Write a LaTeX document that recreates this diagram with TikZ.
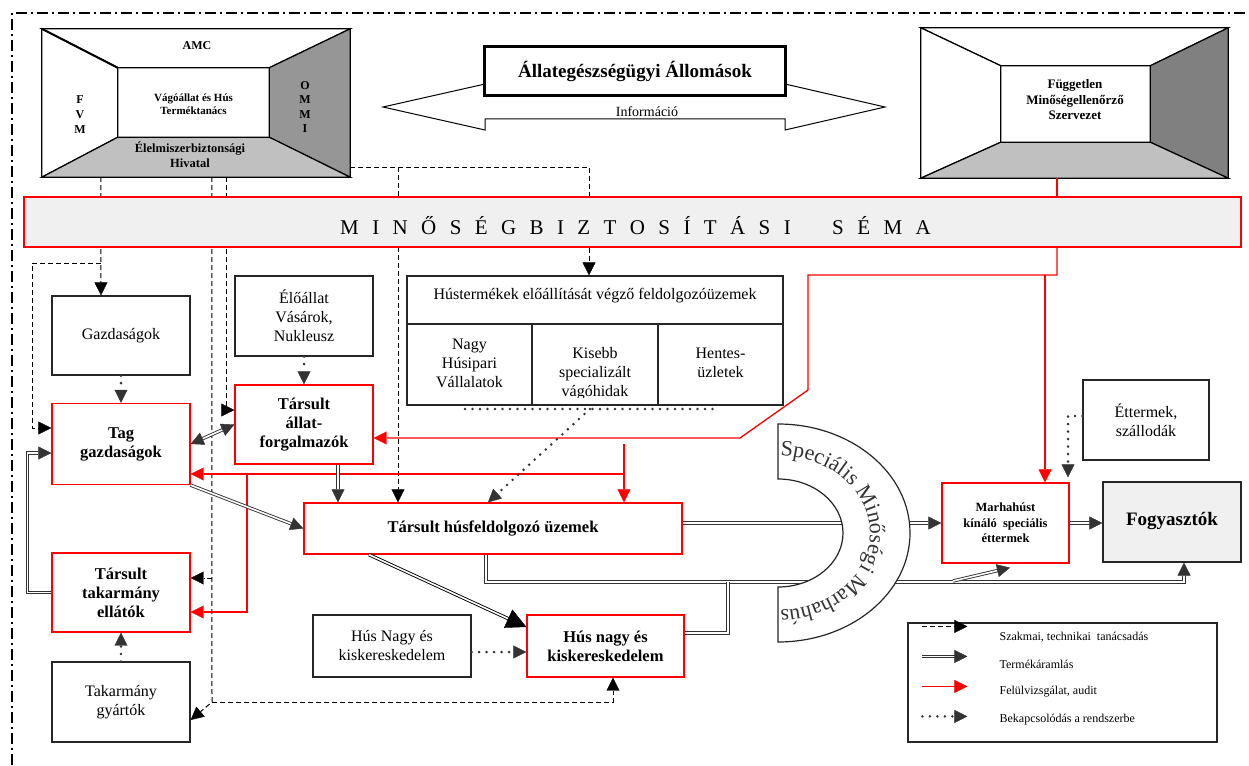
\documentclass[tikz,border=0pt]{standalone}
\usepackage{fontspec}
\setmainfont{Liberation Serif}
\usetikzlibrary{arrows.meta, decorations.text}

\definecolor{sotet}{HTML}{333333}
\definecolor{vilagos}{HTML}{C0C0C0}
\definecolor{kozep}{HTML}{969696}
\definecolor{mely}{HTML}{808080}
\definecolor{pontozott}{HTML}{F0F0F0}

\tikzset{
  doboz/.style={draw=black!85, line width=1.2pt, fill=white, align=center, inner sep=0pt,
    font=\fontsize{16}{19}\selectfont},
  tagdoboz/.style={draw=red, line width=1.3pt, fill=white, align=center, inner sep=0pt,
    font=\fontsize{16.5}{19}\selectfont\bfseries},
  szoveg/.style={align=center, inner sep=0pt, font=\fontsize{16}{19}\selectfont},
  szoba/.style={line width=1.2pt, draw=black},
  hegy/.style={-{Triangle[length=13pt, width=13pt, line width=0.4pt]}},
  tanacs/.style={hegy, black, line width=1pt, dash pattern=on 5pt off 3pt},
  aramlas/.style={hegy, sotet, double=white, double distance=1.6pt, line width=0.9pt},
  audit/.style={hegy, red, line width=1.3pt},
  bekapcs/.style={hegy, sotet, line width=2.8pt, line cap=round, dash pattern=on 0pt off 7.5pt},
}

\begin{document}
\begin{tikzpicture}[x=1pt, y=-1pt]
\useasboundingbox (0,0) rectangle (1249,765);

% keret
\draw[line width=2pt, dash pattern=on 11pt off 4pt on 2pt off 4pt] (12,765) -- (12,13) -- (1249,13);

% bal felso szoba
\node[minimum width=308pt, minimum height=148pt, inner sep=0pt] (fvm) at (196,103) {};
\node[minimum width=151pt, minimum height=69pt, inner sep=0pt] (vht) at (193.5,102.5) {};
\filldraw[szoba, fill=white] (fvm.north west) -- (fvm.north east) -- (vht.north east) -- (vht.north west) -- cycle;
\filldraw[szoba, fill=white] (fvm.north west) -- (vht.north west) -- (vht.south west) -- (fvm.south west) -- cycle;
\filldraw[szoba, fill=kozep] (fvm.north east) -- (vht.north east) -- (vht.south east) -- (fvm.south east) -- cycle;
\filldraw[szoba, fill=vilagos] (fvm.south west) -- (vht.south west) -- (vht.south east) -- (fvm.south east) -- cycle;
\draw[line width=2pt] (fvm.north west) -- (vht.north west);
\node[font=\fontsize{12}{14}\selectfont\bfseries] (amc) at (197,46) {AMC};
\node[font=\fontsize{12}{15}\selectfont\bfseries, align=center] (fvmbetu) at (80,115) {F\\V\\M};
\node[font=\fontsize{12}{14.5}\selectfont\bfseries, align=center] (ommi) at (305,107) {O\\M\\M\\I};
\node[font=\fontsize{11}{13}\selectfont\bfseries, align=center] (vhtszoveg) at (193.5,104) {Vágóállat és Hús\\Terméktanács};
\node[font=\fontsize{12.5}{15}\selectfont\bfseries, align=center] (ebh) at (190,155) {Élelmiszerbiztonsági\\Hivatal};

% jobb felso szoba
\node[minimum width=307pt, minimum height=150pt, inner sep=0pt] (fmsz) at (1074.5,103) {};
\node[minimum width=149pt, minimum height=76pt, inner sep=0pt] (fmszb) at (1075.5,104) {};
\filldraw[szoba, fill=white] (fmsz.north west) -- (fmsz.north east) -- (fmszb.north east) -- (fmszb.north west) -- cycle;
\filldraw[szoba, fill=white] (fmsz.north west) -- (fmszb.north west) -- (fmszb.south west) -- (fmsz.south west) -- cycle;
\filldraw[szoba, fill=mely] (fmsz.north east) -- (fmszb.north east) -- (fmszb.south east) -- (fmsz.south east) -- cycle;
\filldraw[szoba, fill=vilagos] (fmsz.south west) -- (fmszb.south west) -- (fmszb.south east) -- (fmsz.south east) -- cycle;
\node[font=\fontsize{13}{15.5}\selectfont\bfseries, align=center] (fmszszoveg) at (1075,100) {Független\\Minőségellenőrző\\Szervezet};

% allategeszsegugyi allomasok
\filldraw[line width=1pt, fill=white] (383,107) -- (485,84) -- (485,95) -- (785,95) -- (785,84) -- (885,107)
  -- (785,130) -- (785,119) -- (485,119) -- (485,130) -- cycle;
\node[draw, line width=3pt, fill=white, minimum width=301pt, minimum height=49pt, inner sep=0pt,
  font=\fontsize{19}{22}\selectfont\bfseries] (allomas) at (635,71) {\raisebox{3pt}{Állategészségügyi Állomások}};
\node[font=\fontsize{14}{16}\selectfont, inner sep=0pt] (info) at (647,112) {Információ};

% dobozok
\node[doboz, minimum width=138pt, minimum height=79pt] (gazd) at (121,335.5) {Gazdaságok};
\node[tagdoboz, minimum width=138pt, minimum height=81pt] (tag) at (121,444) {Tag\\gazdaságok};
\node[tagdoboz, minimum width=138pt, minimum height=79pt] (takell) at (121,592.5) {Társult\\takarmány\\ellátók};
\node[doboz, minimum width=138pt, minimum height=80pt] (takgy) at (121,702) {Takarmány\\gyártók};
\node[doboz, minimum width=138pt, minimum height=80pt] (eloallat) at (304,316) {Élőállat\\Vásárok,\\Nukleusz};
\node[tagdoboz, minimum width=138pt, minimum height=79pt] (allatforg) at (304,424.5) {Társult\\állat-\\forgalmazók};
\node[tagdoboz, minimum width=378pt, minimum height=51pt] (husfeld) at (493,528.5) {Társult húsfeldolgozó üzemek};
\node[tagdoboz, minimum width=157pt, minimum height=62pt] (husker) at (605.5,646) {Hús nagy és\\kiskereskedelem};
\node[doboz, minimum width=158pt, minimum height=62pt] (huskulso) at (392,646) {Hús Nagy és\\kiskereskedelem};
\node[tagdoboz, minimum width=127pt, minimum height=80pt, font=\fontsize{12.5}{15.5}\selectfont\bfseries] (marha) at (1005.5,523) {Marhahúst\\kínáló\ \ speciális\\éttermek};
\node[doboz, minimum width=138pt, minimum height=80pt, fill=pontozott, font=\fontsize{19}{22}\selectfont\bfseries] (fogy) at (1172,522) {\raisebox{7pt}{Fogyasztók}};
\node[doboz, minimum width=126pt, minimum height=80pt] (etterem) at (1146,420) {Éttermek,\\szállodák};

% husfeldolgozo tabla
\node[doboz, minimum width=376pt, minimum height=129pt] (hust) at (595,340.5) {};
\coordinate (fejlec) at (595,324);
\coordinate (hasab1) at (532,324);
\coordinate (hasab2) at (658,324);
\draw[line width=1.2pt, black!85] (hust.west |- fejlec) -- (hust.east |- fejlec);
\draw[line width=1.2pt, black!85] (hasab1) -- (hasab1 |- hust.south);
\draw[line width=1.2pt, black!85] (hasab2) -- (hasab2 |- hust.south);
\node[szoveg] (hustcim) at (595,296) {Hústermékek előállítását végző feldolgozóüzemek};
\node[szoveg] (nagyhus) at (469.5,363) {Nagy\\Húsipari\\Vállalatok};
\begin{scope}
  \clip (532,324) rectangle (658,397);
  \node[szoveg] (kisebb) at (595,374) {Kisebb\\specializált\\vágóhidak};
\end{scope}
\node[szoveg] (hentes) at (720.5,363) {Hentes-\\üzletek};

% szakmai tanacsadas
\coordinate (t1) at (101,263);
\coordinate (t2) at (212,702);
\coordinate (t3) at (212,578);
\coordinate (t5) at (398,167);
\draw[tanacs] ([xshift=59pt]fvm.south west) -- ([xshift=-20pt]gazd.north);
\draw[tanacs] (t1) -- ++(-69,0) |- ([yshift=16pt]tag.west);
\draw[tanacs] ([xshift=170pt]fvm.south west) -- (t2) -- ([yshift=-18pt]takgy.east);
\draw[tanacs] (t2) -| ([xshift=7.5pt]husker.south);
\draw[tanacs] (t3) -- (t3 -| takell.east);
\draw[tanacs] ([xshift=185pt]fvm.south west) |- ([yshift=14.5pt]allatforg.west);
\draw[tanacs] ([yshift=-64pt]fvm.east) -| ([xshift=-6pt]hust.north);
\draw[tanacs] (t5) -- (t5 |- husfeld.north);

% minosegbiztositasi sema
\node[draw=red, line width=1.3pt, fill=pontozott, minimum width=1217pt, minimum height=50pt, inner sep=0pt] (msz) at (632.5,222) {};
\node[anchor=base west, inner sep=0pt, font=\fontsize{21}{24}\selectfont] (msztext) at (340,234)
  {\spaceskip=13.4pt M I N Ő S É G B I Z T O S Í T Á S I\hspace{28pt} S É M A};

% felulvizsgalat
\coordinate (a1) at (1057,275);
\coordinate (a2) at (808,275);
\coordinate (a3) at (808,390);
\coordinate (a4) at (740,438);
\coordinate (a5) at (1045,275);
\coordinate (a6) at (624,444);
\coordinate (a7) at (624,474);
\coordinate (a8) at (247,474);
\draw[red, line width=1.3pt] ([xshift=-17.5pt]fmsz.south) -- (a1 |- msz.north);
\draw[audit] (a1 |- msz.south) -- (a1) -- (a2) -- (a3) -- (a4) -- (a4 -| allatforg.east);
\draw[audit] (a5) -- (a5 |- marha.north);
\draw[audit] (a6) -- (a6 |- husfeld.north);
\draw[audit] (a7) -- (a7 -| tag.east);
\draw[audit] (a8) |- ([yshift=-19.5pt]takell.east);

% termekaramlas
\coordinate (k1) at ([xshift=34pt]allatforg.south);
\coordinate (k2) at (1184,582);
\coordinate (k3) at (728,582);
\coordinate (k4) at (953,581);
\draw[aramlas] (k1) -- (k1 |- husfeld.north);
\draw[aramlas] (tag.south east) -- (husfeld.west);
\draw[aramlas, -{Triangle[length=20pt, width=20pt, line width=0.4pt]}, draw=black] ([xshift=-124pt]husfeld.south) -- ([yshift=19pt]husker.west);
\draw[aramlas] (takell.west) -- ++(-24,0) |- ([yshift=-9pt]tag.west);
\draw[aramlas, {Triangle[length=13pt, width=13pt, line width=0.4pt]}-{Triangle[length=13pt, width=13pt, line width=0.4pt]}] (tag.east) -- (allatforg.west);
\draw[aramlas] (husfeld.east |- marha.west) -- (marha.west);
\draw[aramlas] (marha.east) -- (marha.east -| fogy.west);
\draw[aramlas] ([xshift=-7pt]husfeld.south) |- (k2) -- (k2 |- fogy.south);
\draw[aramlas, -] ([yshift=13pt]husker.east) -| (k3);
\draw[aramlas] (k4) -- ([xshift=4.5pt, yshift=-4pt]marha.south);

% specialis minosegi marhahus
\coordinate (ivk) at (778,533);
\filldraw[fill=white, draw=black!85, line width=1.2pt] ([yshift=109pt]ivk)
  arc[start angle=-90, end angle=90, x radius=132, y radius=109] -- ++(0,-55)
  arc[start angle=90, end angle=-90, x radius=65, y radius=54] -- cycle;
\path[decorate, decoration={text along path, text align=center,
  text={|\fontsize{22}{22}\selectfont\color{sotet}|Speciális Minőségi Marhahús}}]
  ([yshift=77pt]ivk) arc[start angle=-90, end angle=90, x radius=92, y radius=77];

% bekapcsolodas
\coordinate (p1) at (465,409);
\coordinate (p2) at (718,409);
\coordinate (p3) at (590,409);
\coordinate (p4) at (1068,416);
\draw[bekapcs] (gazd) -- (tag);
\draw[bekapcs] (eloallat) -- (allatforg);
\draw[bekapcs] (takgy) -- (takell);
\draw[bekapcs] ([yshift=-6pt]huskulso.east) -- ([yshift=-6pt]husker.west);
\draw[bekapcs, -] (p1) -- (p2);
\draw[bekapcs] (p3) -- ([xshift=-5pt]husfeld.north);
\draw[bekapcs] ([yshift=4pt]etterem.west) -- (p4) -- ([xshift=62.5pt, yshift=5pt]marha.north);

% jelmagyarazat
\node[draw=black!85, line width=1.2pt, minimum width=309pt, minimum height=119pt, inner sep=0pt] (jel) at (1062.5,682.5) {};
\draw[tanacs] ([xshift=15pt, yshift=-4pt]jel.north west) -- ++(45,0);
\draw[aramlas] ([xshift=15pt, yshift=-34pt]jel.north west) -- ++(45,0);
\draw[audit] ([xshift=15pt, yshift=-64pt]jel.north west) -- ++(45,0);
\draw[bekapcs] ([xshift=15pt, yshift=-94pt]jel.north west) -- ++(45,0);
\node[anchor=west, inner sep=0pt, font=\fontsize{12}{14}\selectfont] (jel1) at ([xshift=92pt, yshift=-15pt]jel.north west) {Szakmai, technikai\ \ tanácsadás};
\node[anchor=west, inner sep=0pt, font=\fontsize{12}{14}\selectfont] (jel2) at ([xshift=92pt, yshift=-42pt]jel.north west) {Termékáramlás};
\node[anchor=west, inner sep=0pt, font=\fontsize{12}{14}\selectfont] (jel3) at ([xshift=92pt, yshift=-69pt]jel.north west) {Felülvizsgálat, audit};
\node[anchor=west, inner sep=0pt, font=\fontsize{12}{14}\selectfont] (jel4) at ([xshift=92pt, yshift=-97pt]jel.north west) {Bekapcsolódás a rendszerbe};
\end{tikzpicture}
\end{document}
